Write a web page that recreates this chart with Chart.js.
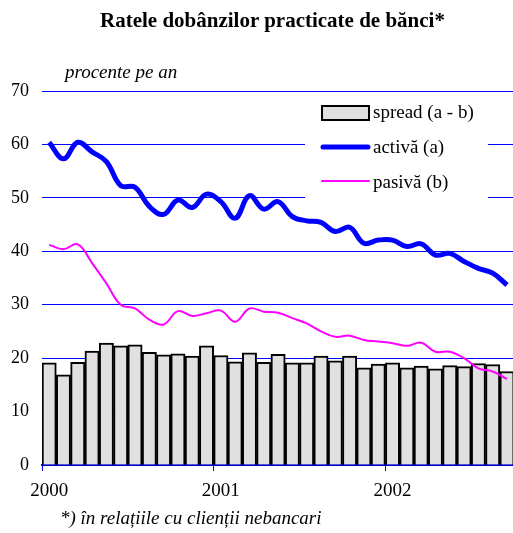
<!DOCTYPE html>
<html>
<head>
<meta charset="utf-8">
<script src="https://cdn.jsdelivr.net/npm/chart.js@4"></script>
<style>
html, body { margin: 0; padding: 0; background: #fff; overflow: hidden; }
#wrap { position: relative; width: 513px; height: 533px; overflow: hidden; }
#chart { position: absolute; left: 0; top: 0; }
.txt { position: absolute; font-family: "Liberation Serif", "Times New Roman", serif; color: #000; white-space: nowrap; }
#title { left: 0; width: 545px; top: 8px; text-align: center; font-weight: bold; font-size: 21px; }
#unit { left: 65px; top: 61px; font-style: italic; font-size: 19px; }
#note { left: 60px; top: 507px; font-style: italic; font-size: 19px; }
</style>
</head>
<body>
<div id="wrap">
    <canvas id="chart" width="516" height="533"></canvas>
    <div class="txt" id="title">Ratele dobânzilor practicate de bănci*</div>
    <div class="txt" id="unit">procente pe an</div>
    <div class="txt" id="note">*) în relațiile cu clienții nebancari</div>
</div>
<script>
// date lunare, ian 2000 - sep 2002
var years = ['2000', '2001', '2002'];
var monthsInLastYear = 9;

var spread = [19.1, 16.9, 19.2, 21.3, 22.8, 22.3, 22.5, 21.1, 20.6, 20.8, 20.4, 22.3,
              20.5, 19.3, 21.0, 19.2, 20.7, 19.1, 19.1, 20.4, 19.5, 20.4, 18.2, 18.9,
              19.1, 18.2, 18.5, 18.0, 18.6, 18.4, 19.0, 18.8, 17.5];

var activa = [60.4, 57.3, 60.4, 58.6, 56.8, 52.3, 52.0, 48.4, 46.9, 49.6, 48.2, 50.7,
              49.3, 46.2, 50.4, 47.9, 49.3, 46.5, 45.7, 45.4, 43.7, 44.5, 41.5, 42.1,
              42.1, 40.9, 41.4, 39.3, 39.6, 38.1, 36.8, 35.9, 33.7];

var pasiva = [41.2, 40.4, 41.3, 37.8, 34.0, 30.0, 29.3, 27.2, 26.3, 28.8, 27.9, 28.4,
              28.9, 26.8, 29.3, 28.7, 28.5, 27.5, 26.5, 25.0, 24.0, 24.2, 23.4, 23.1,
              22.8, 22.3, 22.9, 21.2, 21.2, 20.0, 18.1, 17.5, 16.1];

var labels = [];
years.forEach(function (y, i) {
    var n = (i == years.length - 1) ? monthsInLastYear : 12;
    for (var m = 1; m <= n; m++) {
        labels.push(y + '-' + (m < 10 ? '0' + m : m));
    }
});

var serif = '"Liberation Serif", "Times New Roman", serif';
var gridBlue = '#0000ff';

// legenda desenata in interiorul graficului, pe fond alb
var legendBox = {
    id: 'legendBox',
    afterDraw: function (chart) {
        var ctx = chart.ctx;
        ctx.save();
        ctx.fillStyle = '#fff';
        ctx.fillRect(305, 93, 183, 105);

        ctx.fillStyle = '#e0e0e0';
        ctx.fillRect(322, 106, 47, 14);
        ctx.strokeStyle = '#000';
        ctx.lineWidth = 2;
        ctx.strokeRect(322, 106, 47, 14);

        ctx.lineCap = 'round';
        ctx.strokeStyle = '#0000ff';
        ctx.lineWidth = 5;
        ctx.beginPath();
        ctx.moveTo(323, 147);
        ctx.lineTo(368, 147);
        ctx.stroke();

        ctx.strokeStyle = '#ff00ff';
        ctx.lineWidth = 2;
        ctx.beginPath();
        ctx.moveTo(322, 181);
        ctx.lineTo(369, 181);
        ctx.stroke();

        ctx.fillStyle = '#000';
        ctx.font = '19px ' + serif;
        ctx.textBaseline = 'middle';
        ctx.fillText('spread (a - b)', 373, 113);
        ctx.fillText('activă (a)', 373, 148);
        ctx.fillText('pasivă (b)', 373, 183);
        ctx.restore();
    }
};

var chart = new Chart(document.getElementById('chart'), {
    type: 'bar',
    data: {
        labels: labels,
        datasets: [{
            type: 'line',
            label: 'activă (a)',
            data: activa,
            borderColor: '#0000ff',
            borderWidth: 5,
            pointRadius: 0,
            tension: 0.4,
            fill: false,
            order: 1
        }, {
            type: 'line',
            label: 'pasivă (b)',
            data: pasiva,
            borderColor: '#ff00ff',
            borderWidth: 2,
            pointRadius: 0,
            tension: 0.4,
            fill: false,
            order: 2
        }, {
            type: 'bar',
            label: 'spread (a - b)',
            data: spread,
            backgroundColor: '#e0e0e0',
            borderColor: '#000',
            borderWidth: 2,
            categoryPercentage: 1.0,
            barPercentage: 1.0,
            order: 3
        }]
    },
    options: {
        responsive: false,
        animation: false,
        layout: {
            padding: { top: 91, right: 0, bottom: 0, left: 0 }
        },
        plugins: {
            legend: { display: false },
            title: { display: false },
            tooltip: { enabled: false }
        },
        scales: {
            x: {
                offset: true,
                afterFit: function (scale) { scale.height = 68; },
                grid: {
                    offset: true,
                    drawOnChartArea: false,
                    tickLength: 6,
                    color: function (c) { return c.index % 12 == 0 && c.index < labels.length ? gridBlue : 'rgba(0,0,0,0)'; }
                },
                border: { display: true, color: '#0000cc', width: 2 },
                ticks: {
                    autoSkip: false,
                    maxRotation: 0,
                    padding: 9,
                    color: '#000',
                    font: { family: serif, size: 19 },
                    callback: function (val, idx) {
                        return idx % 12 == 0 ? labels[idx].slice(0, 4) : '';
                    }
                }
            },
            y: {
                min: 0,
                max: 70,
                afterFit: function (scale) { scale.width = 42; },
                grid: {
                    color: gridBlue,
                    lineWidth: 1,
                    drawTicks: false
                },
                border: { display: false },
                ticks: {
                    stepSize: 10,
                    padding: 13,
                    color: '#000',
                    font: { family: serif, size: 18 }
                }
            }
        }
    },
    plugins: [legendBox]
});
</script>
</body>
</html>
